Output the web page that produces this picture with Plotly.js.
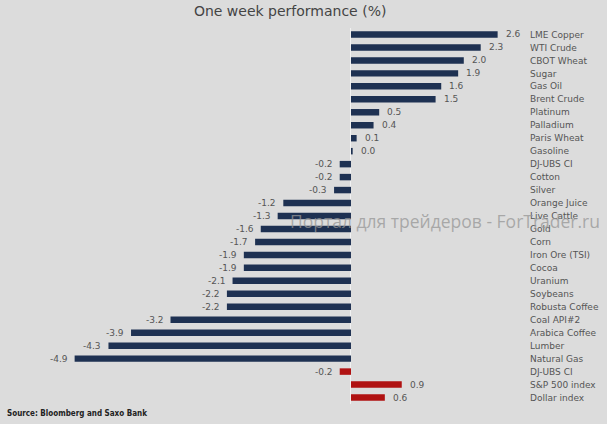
<!DOCTYPE html>
<html><head><meta charset="utf-8">
<script src="https://cdn.plot.ly/plotly-3.0.1.min.js"></script>
<style>html,body{margin:0;padding:0;background:#dcdcdc;}#chart{width:607px;height:424px;}</style>
</head><body><div id="chart"></div>
<script>
const categories = ["LME Copper","WTI Crude","CBOT Wheat","Sugar","Gas Oil","Brent Crude","Platinum","Palladium","Paris Wheat","Gasoline","DJ-UBS CI","Cotton","Silver","Orange Juice","Live Cattle","Gold","Corn","Iron Ore (TSI)","Cocoa","Uranium","Soybeans","Robusta Coffee","Coal API#2","Arabica Coffee","Lumber","Natural Gas","DJ-UBS CI","S&P 500 index","Dollar index"];
const values = [2.6,2.3,2.0,1.9,1.6,1.5,0.5,0.4,0.1,0.03,-0.2,-0.2,-0.3,-1.2,-1.3,-1.6,-1.7,-1.9,-1.9,-2.1,-2.2,-2.2,-3.2,-3.9,-4.3,-4.9,-0.2,0.9,0.6];
const groups = ["c","c","c","c","c","c","c","c","c","c","c","c","c","c","c","c","c","c","c","c","c","c","c","c","c","c","m","m","m"];
const colorMap = {c:"#1e3152", m:"#b01212"};

const idx = categories.map((_, i) => i);
const trace = {
  type: "bar", orientation: "h",
  x: values, y: idx,
  marker: {color: groups.map(g => colorMap[g]), line: {width: 0}},
  hoverinfo: "none"
};
const valueAnn = values.map((v, i) => ({
  x: v, y: i, xref: "x", yref: "y",
  text: v.toFixed(1), showarrow: false,
  xanchor: v >= 0 ? "left" : "right",
  xshift: v >= 0 ? 6 : -5,
  font: {family: "DejaVu Sans", size: 9, color: "#555555"}
}));
const layout = {
  width: 607, height: 424,
  paper_bgcolor: "#dcdcdc", plot_bgcolor: "#dcdcdc",
  margin: {l: 10, r: 81, t: 28, b: 20},
  bargap: 0.5,
  showlegend: false,
  title: {text: "One week performance (%)", xref: "container", yref: "container",
    x: 0.478, xanchor: "center", y: 0.974, yanchor: "middle",
    font: {family: "DejaVu Sans", size: 14, color: "#444444"}},
  xaxis: {range: [-6.046, 3.103], showgrid: false, showticklabels: false, ticks: "",
    zeroline: true, zerolinecolor: "#f2f2f2", zerolinewidth: 1, fixedrange: true},
  yaxis: {range: [28.5, -0.5], side: "right", tickvals: idx, ticktext: categories,
    showgrid: false, zeroline: false, ticks: "", ticklen: 0, ticklabelstandoff: 3,
    tickfont: {family: "DejaVu Sans", size: 9, color: "#555555"}, fixedrange: true},
  annotations: valueAnn.concat([
    {xref: "paper", yref: "paper", x: -0.0097, y: -0.025, xanchor: "left", yanchor: "middle",
     text: "Source: Bloomberg and Saxo Bank", showarrow: false,
     font: {family: "DejaVu Sans Condensed", size: 8, color: "#222222", weight: "bold"}},
    {xref: "paper", yref: "paper", x: 0.843, y: 0.487, xanchor: "center", yanchor: "middle",
     text: "Портал для трейдеров - ForTrader.ru", showarrow: false,
     font: {family: "Open Sans", size: 17.5, color: "rgba(150,150,150,0.75)"}}
  ])
};
Plotly.newPlot("chart", [trace], layout, {displayModeBar: false, staticPlot: true});
</script></body></html>
